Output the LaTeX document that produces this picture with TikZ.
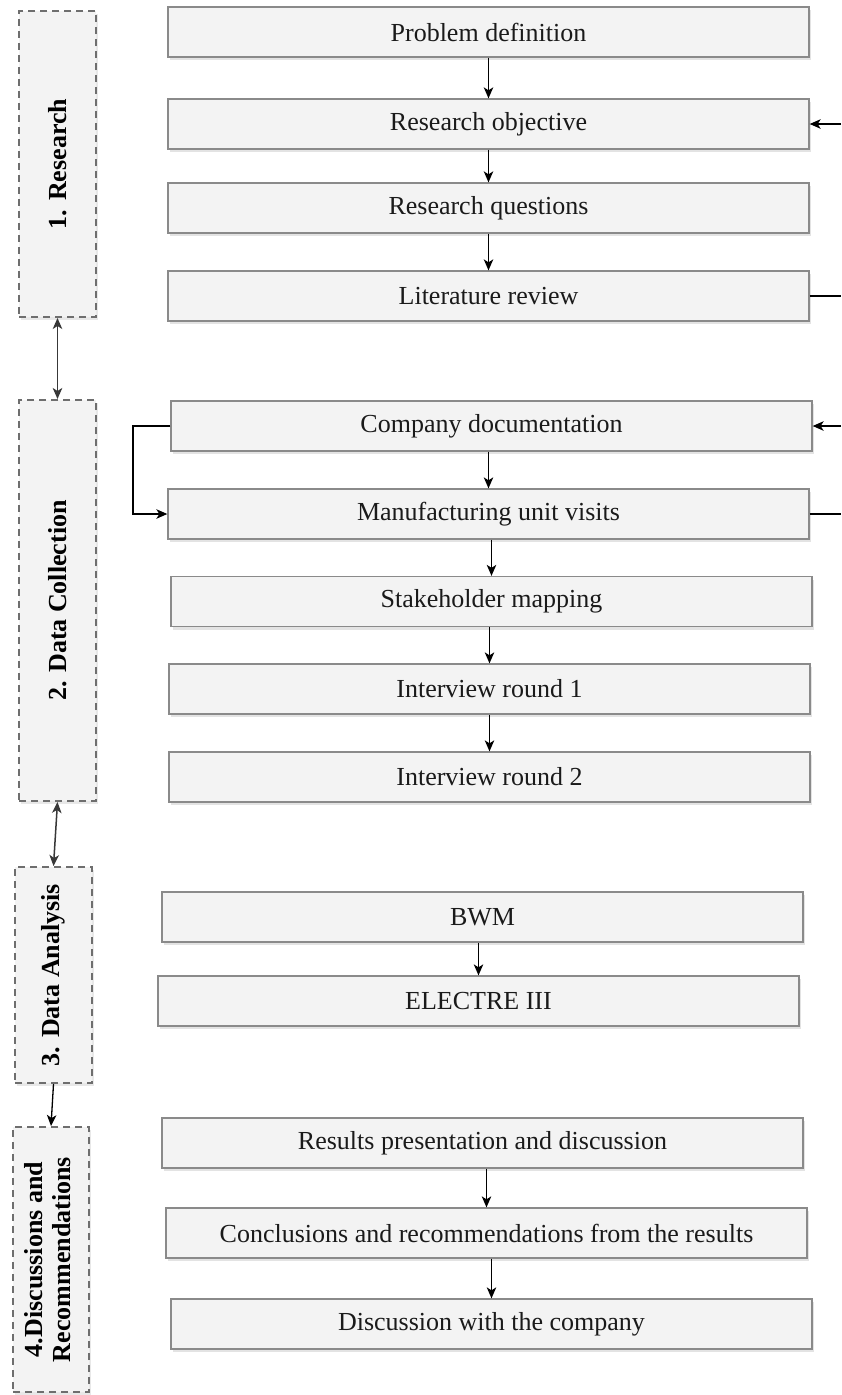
\documentclass[tikz,border=0pt]{standalone}
\usepackage{fontspec}
\setmainfont{Liberation Serif}
\usetikzlibrary{arrows.meta,shadows}
\definecolor{boxfill}{HTML}{F3F3F3}
\definecolor{boxedge}{HTML}{8A8A8A}
\definecolor{phaseedge}{HTML}{6E6E6E}
\definecolor{textcol}{HTML}{1A1A1A}
\begin{document}
\begin{tikzpicture}[x=1pt,y=-1pt,
  stepbox/.style={draw=boxedge, fill=boxfill, line width=1.3pt,
    minimum width=641pt, minimum height=50pt, inner sep=0pt,
    font=\fontsize{26}{30}\selectfont, text=textcol,
    drop shadow={shadow xshift=2pt, shadow yshift=-3pt, opacity=0.22}},
  phase/.style={draw=phaseedge, fill=boxfill, line width=2pt,
    dash pattern=on 7pt off 5pt, inner sep=0pt,
    font=\fontsize{26}{30}\selectfont\bfseries, text=black,
    drop shadow={shadow xshift=2pt, shadow yshift=-3pt, opacity=0.18}},
  tip/.tip={Stealth[length=11pt,width=9.5pt,inset=3pt]},
  arr/.style={draw=black, line width=1.3pt, -tip},
  darr/.style={draw=black!78, line width=1.5pt, tip-tip},
  plain/.style={draw=black, line width=1.3pt}
]
\useasboundingbox (0,0) rectangle (841,1395);

% phase boxes
\node[phase, minimum width=77pt, minimum height=306pt] (p1) at (57.5,164) {\rotatebox{90}{1. Research}};
\node[phase, minimum width=77pt, minimum height=401pt] (p2) at (57.5,600.5) {\rotatebox{90}{2. Data Collection}};
\node[phase, minimum width=77pt, minimum height=216pt] (p3) at (53.5,975) {\rotatebox{90}{3. Data Analysis}};
\node[phase, minimum width=76pt, minimum height=265pt] (p4) at (51,1259.5) {\rotatebox{90}{\begin{tabular}{@{}c@{}}4.Discussions and\\[-2pt]Recommendations\end{tabular}}};

% step boxes
\node[stepbox] (pd)  at (488.5,32)   {Problem definition};
\node[stepbox] (ro)  at (488.5,124)  {Research objective};
\node[stepbox] (rq)  at (488.5,208)  {Research questions};
\node[stepbox] (lr)  at (488.5,296)  {Literature review};
\node[stepbox] (cd)  at (491.5,426)  {Company documentation};
\node[stepbox] (mu)  at (488.5,514)  {Manufacturing unit visits};
\node[stepbox] (sm)  at (491.5,601.5){Stakeholder mapping};
\node[stepbox] (i1)  at (489.5,689)  {Interview round 1};
\node[stepbox] (i2)  at (489.5,777)  {Interview round 2};
\node[stepbox] (bwm) at (482.5,917)  {BWM};
\node[stepbox] (el)  at (478.5,1001) {ELECTRE III};
\node[stepbox] (rp)  at (482.5,1143) {Results presentation and discussion};
\node[stepbox] (cr)  at (486.5,1233) {Conclusions and recommendations from the results};
\node[stepbox] (dc)  at (491.5,1324) {Discussion with the company};

% phase connectors
\draw[darr] (p1.south) -- (p2.north);
\draw[darr] (p2.south) -- (p3.north);
\draw[arr] (p3.south) -- (p4.north);

% vertical flow arrows
\foreach \a/\b in {pd/ro, ro/rq, rq/lr, cd/mu, mu/sm, sm/i1, i1/i2, bwm/el, rp/cr, cr/dc}
  \draw[arr] (\b.north |- \a.south) -- (\b.north);

% right side loop ends
\coordinate (r1) at (841,124);
\coordinate (r2) at (841,296);
\coordinate (r3) at (841,426);
\coordinate (r4) at (841,514);
\draw[arr] (r1) -- (ro.east);
\draw[plain] (lr.east) -- (r2);
\draw[arr] (r3) -- (cd.east);
\draw[plain] (mu.east) -- (r4);

% left loop
\coordinate (l1) at (133,426);
\draw[arr] (cd.west) -- (l1) |- (mu.west);
\end{tikzpicture}
\end{document}
